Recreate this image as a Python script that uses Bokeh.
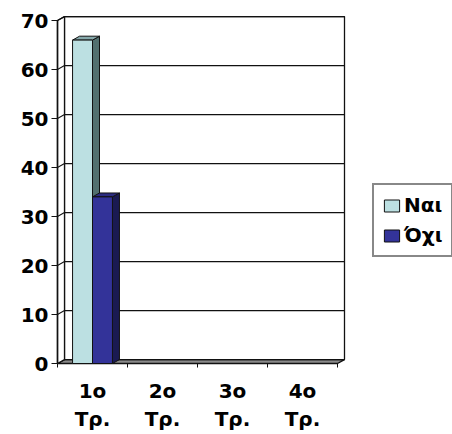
from bokeh.plotting import figure
from bokeh.models import Legend, LegendItem, FixedTicker, Range1d
from bokeh.embed import file_html
from bokeh.resources import INLINE

# ---- data -------------------------------------------------------------
categories = ["1ο\nΤρ.", "2ο\nΤρ.", "3ο\nΤρ.", "4ο\nΤρ."]
series_names = ["Ναι", "Όχι"]
yes_values = [66, 0, 0, 0]
no_values = [34, 0, 0, 0]
y_ticks = [0, 10, 20, 30, 40, 50, 60, 70]

# ---- styling ----------------------------------------------------------
front_colors = ["#bce0e2", "#333399"]
side_colors = ["#52706f", "#1a1a52"]
top_colors = ["#86a9ab", "#2b2b80"]
FONT = "DejaVu Sans"

# depth of the 3-D box and of the bars (data units)
DX, DY = 0.1, 0.8
BW = 0.285

n = len(categories)
y_max = y_ticks[-1]
x0, x1 = 0.5, n + 0.5

# frame geometry: 70 px per category, 4.9 px per unit
px_x, px_y = 70.0, 4.9
W, H = 452, 434
left, bottom = 55, 69
x_start = x0 - 2 / px_x
y_start = -2 / px_y

p = figure(
    width=W, height=H,
    output_backend="svg", toolbar_location=None,
    x_range=Range1d(x_start, x_start + (W - left) / px_x),
    y_range=Range1d(y_start, y_start + (H - bottom) / px_y),
    min_border_left=left, min_border_right=0,
    min_border_top=0, min_border_bottom=bottom,
)
p.outline_line_color = None
p.background_fill_color = "white"
p.border_fill_color = "white"
p.xgrid.visible = False
p.ygrid.visible = False

LINE = "#111111"

# floor
p.patch([x0, x1, x1 + DX, x0 + DX], [0, 0, DY, DY],
        fill_color="#8a8a8a", line_color=LINE, line_width=1.3)
# back wall and left wall
p.patch([x0 + DX, x1 + DX, x1 + DX, x0 + DX], [DY, DY, y_max + DY, y_max + DY],
        fill_color="white", line_color=LINE, line_width=1.3)
p.patch([x0, x0 + DX, x0 + DX, x0], [0, DY, y_max + DY, y_max],
        fill_color="white", line_color=LINE, line_width=1.3)

# gridlines on the back wall and their runs across the left wall
grid_vals = [v for v in y_ticks if v > 0]
p.segment(x0=[x0 + DX] * len(grid_vals), y0=[v + DY for v in grid_vals],
          x1=[x1 + DX] * len(grid_vals), y1=[v + DY for v in grid_vals],
          line_color=LINE, line_width=1.3)
p.segment(x0=[x0] * len(grid_vals), y0=grid_vals,
          x1=[x0 + DX] * len(grid_vals), y1=[v + DY for v in grid_vals],
          line_color=LINE, line_width=1.1)
# front value axis
p.segment(x0=[x0], y0=[0], x1=[x0], y1=[y_max], line_color=LINE, line_width=1.5)

# bars
front_renderers = []
for s, values in enumerate([yes_values, no_values]):
    lefts, rights, tops = [], [], []
    side_xs, side_ys, top_xs, top_ys = [], [], [], []
    for i, v in enumerate(values):
        l = (i + 1) - BW + s * BW
        r = l + BW
        lefts.append(l)
        rights.append(r)
        tops.append(v)
        if v > 0:
            side_xs.append([r, r + DX, r + DX, r])
            side_ys.append([0, DY, v + DY, v])
            top_xs.append([l, r, r + DX, l + DX])
            top_ys.append([v, v, v + DY, v + DY])
    p.patches(side_xs, side_ys, fill_color=side_colors[s], line_color=LINE, line_width=1)
    p.patches(top_xs, top_ys, fill_color=top_colors[s], line_color=LINE, line_width=1)
    fr = p.quad(left=lefts, right=rights, bottom=0, top=tops,
                fill_color=front_colors[s], line_color=LINE, line_width=1)
    front_renderers.append(fr)

# axes
p.xaxis.ticker = FixedTicker(ticks=list(range(1, n + 1)),
                             minor_ticks=[i + 0.5 for i in range(n + 1)])
p.xaxis.major_label_overrides = {i + 1: c for i, c in enumerate(categories)}
p.xaxis.axis_line_color = None
p.xaxis.major_tick_line_color = None
p.xaxis.major_tick_out = 0
p.xaxis.major_tick_in = 0
p.xaxis.minor_tick_line_color = LINE
p.xaxis.minor_tick_in = 2
p.xaxis.minor_tick_out = 2
p.xaxis.major_label_standoff = 11

p.yaxis.ticker = FixedTicker(ticks=y_ticks, minor_ticks=[])
p.yaxis.axis_line_color = None
p.yaxis.major_tick_line_color = LINE
p.yaxis.major_tick_in = 2
p.yaxis.major_tick_out = 4
p.yaxis.major_label_standoff = 3

for ax in (p.xaxis[0], p.yaxis[0]):
    ax.major_label_text_font = FONT
    ax.major_label_text_font_style = "bold"
    ax.major_label_text_font_size = "20px"
    ax.major_label_text_color = "black"

legend = Legend(
    items=[LegendItem(label=name, renderers=[r])
           for name, r in zip(series_names, front_renderers)],
    location=(317, 108),
    border_line_color=LINE, border_line_width=2,
    background_fill_color="white", background_fill_alpha=1,
    padding=8, spacing=6, margin=0,
    glyph_width=19, glyph_height=15, label_standoff=3, label_height=20,
    label_text_font=FONT, label_text_font_style="bold",
    label_text_font_size="20px", label_text_color="black",
)
p.add_layout(legend)

open("out.html", "w").write(file_html(p, INLINE))
